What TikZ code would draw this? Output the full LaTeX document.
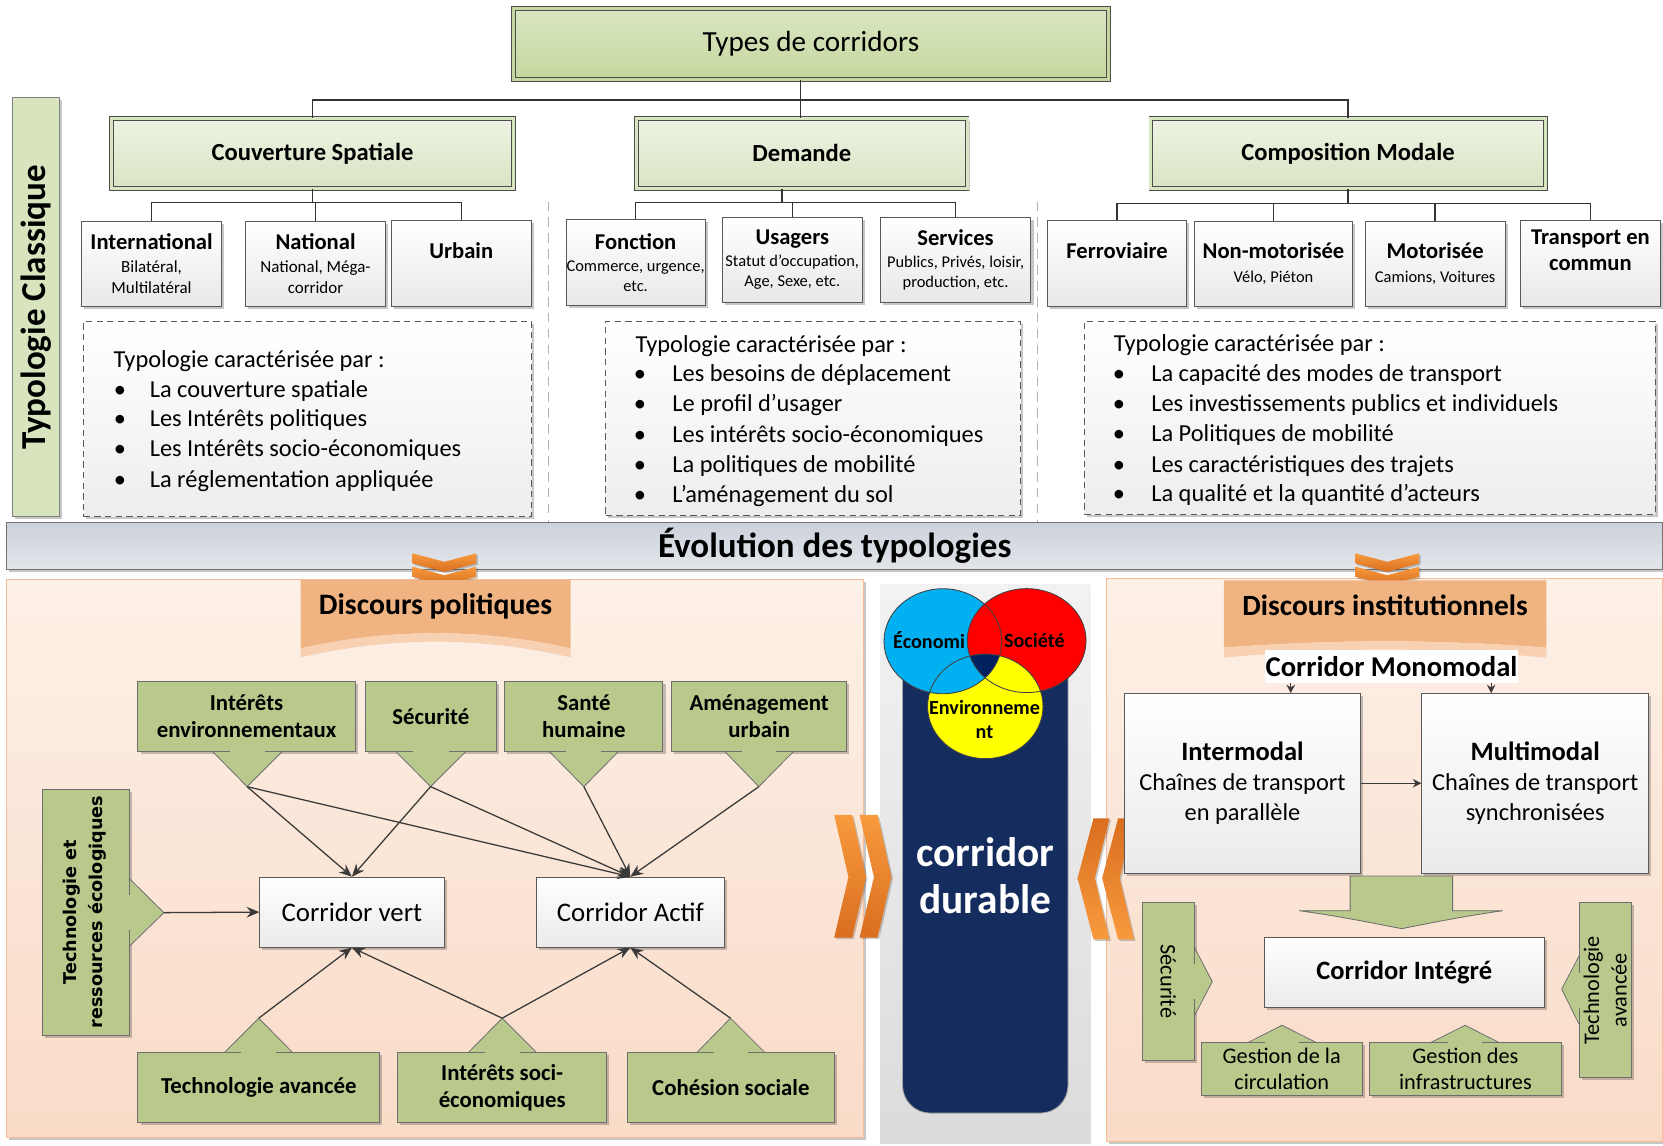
\documentclass[tikz,border=0pt]{standalone}
\usepackage{fontspec}
\setmainfont{Carlito}
\newfontfamily\wideface{DejaVu Sans}
\usetikzlibrary{shadows,arrows.meta,calc}
\newcommand\FS[2]{\fontsize{#1}{#2}\selectfont}

\definecolor{typesA}{HTML}{DAE6C2}
\definecolor{typesB}{HTML}{C4D79E}
\definecolor{hdrA}{HTML}{EEF3E4}
\definecolor{hdrB}{HTML}{D9E4C3}
\definecolor{hdrline}{HTML}{4D4D4D}
\definecolor{boxline}{HTML}{595959}
\definecolor{greenbox}{HTML}{B9C98C}
\definecolor{greenline}{HTML}{6E6E6E}
\definecolor{bandgreen}{HTML}{D7E4BD}
\definecolor{peachA}{HTML}{FDF0E7}
\definecolor{peachB}{HTML}{F9DBC7}
\definecolor{peachline}{HTML}{F5BE98}
\definecolor{banner}{HTML}{F0B483}
\definecolor{bannerlight}{HTML}{F8D0B2}
\definecolor{navy}{HTML}{152C5E}
\definecolor{venblue}{HTML}{00B0F0}
\definecolor{venred}{HTML}{FF0000}
\definecolor{venyellow}{HTML}{FFFF00}
\definecolor{vennavy}{HTML}{002060}
\definecolor{orLight}{HTML}{F89A3E}
\definecolor{orDark}{HTML}{D96E1F}
\definecolor{evoA}{HTML}{CCD2DC}
\definecolor{evoB}{HTML}{E3E5E9}
\definecolor{arrowc}{HTML}{3A3A3A}

\tikzset{
  shd/.style={drop shadow={shadow xshift=2.5pt, shadow yshift=-2.5pt, fill=black, opacity=0.22}},
  typesbox/.style={shd, draw=hdrline, line width=0.7pt, double=typesB, double distance=2.8pt, top color=typesA, bottom color=typesB, font=\FS{27.5}{32}, inner sep=0},
  hdrbox/.style={shd, draw=hdrline, line width=0.7pt, double=hdrB, double distance=2.8pt, top color=hdrA, bottom color=hdrB, font=\bfseries\FS{23.2}{27}, inner sep=0},
  childbox/.style={shd, draw=boxline, line width=0.8pt, top color=white, bottom color=black!9, inner sep=0, align=center},
  conn/.style={draw=black!80, line width=1.4pt},
  sepline/.style={draw=black!30, line width=1.2pt, dash pattern=on 9pt off 6pt},
  dashbox/.style={shd, draw=black!65, line width=0.9pt, dash pattern=on 6pt off 4pt, top color=white, bottom color=black!7, inner sep=0},
  listtxt/.style={font=\FS{23}{28}, inner sep=0},
  gbox/.style={shd, fill=greenbox, draw=greenline, line width=0.8pt, inner sep=0, align=center, font=\bfseries\FS{21.5}{25.5}},
  gline/.style={draw=greenline, line width=0.8pt},
  wbox/.style={shd, draw=boxline, line width=0.8pt, top color=white, bottom color=black!8, inner sep=0, align=center},
  arr/.style={draw=arrowc, line width=1.2pt, -{Stealth[length=12pt,width=10pt]}},
  arrs/.style={draw=arrowc, line width=1.2pt, -{Stealth[length=8pt,width=8pt]}},
  chev/.style={drop shadow={shadow xshift=1.5pt, shadow yshift=-1.5pt, fill=black, opacity=0.2}, top color=orLight, bottom color=orDark},
  chevL/.style={drop shadow={shadow xshift=1.5pt, shadow yshift=-1.5pt, fill=black, opacity=0.2}, top color=orLight, bottom color=orDark},
  chevR/.style={drop shadow={shadow xshift=1.5pt, shadow yshift=-1.5pt, fill=black, opacity=0.2}, top color=orDark, bottom color=orLight},
}

\newcommand\callout[5]{%
  \fill[greenbox] ($(#1)+(#4)$) -- ($(#2)+(#4)$) -- (#3) -- cycle;
  \draw[gline] (#1) -- (#3) -- (#2);
  \draw[gline] (#1) -- ($(#1)!16pt!(#2)$) (#2) -- ($(#2)!16pt!(#1)$);
  \coordinate (#5) at (#3);
}
\newcommand\bitem[5]{%
  \node[listtxt, anchor=base] (#1b) at (#2,#4) {\textbullet};
  \node[listtxt, anchor=base west] (#1) at (#3,#4) {#5};
}
\newcommand\dchev[2]{\path[chev] (#1-30,#2) -- (#1,#2+8) -- (#1+30,#2) -- (#1+30,#2+9.5) -- (#1,#2+17.5) -- (#1-30,#2+9.5) -- cycle;}
\newcommand\rchev[1]{\path[chevL] (#1,768.4) -- (#1+17,768.4) -- (#1+30,827) -- (#1+17,884) -- (#1,884) -- (#1+13.5,827) -- cycle;}
\newcommand\lchev[1]{\path[chevR] (#1,771.6) -- (#1-15,771.6) -- (#1-30,828) -- (#1-15,885.7) -- (#1,885.7) -- (#1-13.6,828) -- cycle;}

\begin{document}
\begin{tikzpicture}[x=1pt,y=-1pt]
\useasboundingbox (0,0) rectangle (1568,1080);
\fill[white] (0,0) rectangle (1568,1080);

% separators
\draw[sepline] (517,190) -- (517,505);
\draw[sepline] (978,190) -- (978,505);

% ---------- top tree ----------
\node[typesbox, minimum width=561, minimum height=67] (types) at (764.5,41.5) {Types de corridors};
\node[hdrbox, minimum width=379, minimum height=66] (couv) at (294.7,144.6) {Couverture Spatiale};
\node[hdrbox, minimum width=312, minimum height=66] (dem) at (756,144.6) {Demande};
\node[hdrbox, minimum width=372, minimum height=66] (comp) at (1271,144.6) {Composition Modale};

\coordinate (hubT) at (755,94.3);
\draw[conn] (types.south -| hubT) -- (dem.north -| hubT);
\draw[conn] (couv.north) -- (couv.north |- hubT) -- (comp.north |- hubT) -- (comp.north);

% Couverture children
\node[childbox, minimum width=131.8, minimum height=80.5, font=\FS{16}{19.5}] (intl) at (142.9,248.7) {{\bfseries\FS{21.3}{19.5}International}\\[2pt]Bilatéral,\\Multilatéral};
\node[childbox, minimum width=131.6, minimum height=80.5, font=\FS{16}{19.5}] (nat) at (297.5,248.7) {{\bfseries\FS{21.3}{19.5}National}\\[2pt]National, Méga-\\corridor};
\node[childbox, minimum width=131.7, minimum height=80.5] (urb) at (434.9,248.2) {};
\node[font=\bfseries\FS{21.3}{25}] (urbt) at (434.9,236) {Urbain};
\coordinate (hubC) at (0,191);
\draw[conn] (couv.south) -- (couv.south |- hubC);
\draw[conn] (intl.north) -- (intl.north |- hubC) -- (urb.north |- hubC) -- (urb.north);
\draw[conn] (nat.north) -- (nat.north |- hubC);

% Demande children
\node[childbox, minimum width=131.4, minimum height=81, font=\FS{15.5}{19}] (fon) at (599.3,247.5) {{\bfseries\FS{21.3}{19}Fonction}\\[2pt]Commerce, urgence,\\etc.};
\node[childbox, minimum width=132, minimum height=80, font=\FS{15.5}{19}] (usa) at (747,245) {{\bfseries\FS{21.3}{19}Usagers}\\[2pt]Statut d’occupation,\\Age, Sexe, etc.};
\node[childbox, minimum width=142, minimum height=80, font=\FS{15.5}{19}] (ser) at (901,245) {{\bfseries\FS{21.3}{19}Services}\\[2pt]Publics, Privés, loisir,\\production, etc.};
\coordinate (hubD) at (737.5,190.7);
\draw[conn] (dem.south -| hubD) -- (hubD);
\draw[conn] (fon.north) -- (fon.north |- hubD) -- (ser.north |- hubD) -- (ser.north);
\draw[conn] (usa.north) -- (usa.north |- hubD);

% Composition children
\node[childbox, minimum width=131.2, minimum height=80.5] (fer) at (1053.2,248.2) {};
\node[font=\bfseries\FS{21.3}{25}] (fert) at (1053.2,236.4) {Ferroviaire};
\node[childbox, minimum width=148.6, minimum height=80.5, font=\FS{15.5}{19}] (nonm) at (1200.7,248.7) {{\bfseries\FS{21.3}{19}Non-motorisée}\\[4pt]Vélo, Piéton};
\node[childbox, minimum width=131.5, minimum height=80.5, font=\FS{15.5}{19}] (moto) at (1353.2,248.7) {{\bfseries\FS{21.3}{19}Motorisée}\\[4pt]Camions, Voitures};
\node[childbox, minimum width=132, minimum height=80.5] (trans) at (1499.6,248.2) {};
\node[font=\bfseries\FS{21.3}{25}, align=center] (transt) at (1499.6,236) {Transport en\\commun};
\coordinate (hubM) at (0,191.7);
\draw[conn] (comp.south) -- (comp.south |- hubM);
\draw[conn] (fer.north) -- (fer.north |- hubM) -- (trans.north |- hubM) -- (trans.north);
\draw[conn] (nonm.north) -- (nonm.north |- hubM);
\draw[conn] (moto.north) -- (moto.north |- hubM);

% Typologie Classique band
\node[shd, fill=bandgreen, draw=black!50, line width=0.8pt, minimum width=44.5, minimum height=395, inner sep=0] (tcband) at (34,289.5) {};
\node[rotate=90, font=\bfseries\FS{33}{38}] (tclass) at (34.5,290) {Typologie Classique};

% dashed boxes
\node[dashbox, minimum width=422, minimum height=184] (dbC) at (290,395) {};
\node[listtxt, anchor=base west] (lh) at (107,346.5) {Typologie caractérisée par :};
\bitem{la}{113}{141}{374.5}{La couverture spatiale}
\bitem{lb}{113}{141}{402.5}{Les Intérêts politiques}
\bitem{lc}{113}{141}{430.5}{Les Intérêts socio-économiques}
\bitem{ld}{113}{141}{459.5}{La réglementation appliquée}

\node[dashbox, minimum width=391, minimum height=182.6] (dbD) at (766.5,394.3) {};
\node[listtxt, anchor=base west] (dh) at (599,332) {Typologie caractérisée par :};
\bitem{da}{603.5}{633.8}{359.9}{Les besoins de déplacement}
\bitem{db}{603.5}{633.8}{388.2}{Le profil d’usager}
\bitem{dc}{603.5}{633.8}{417.1}{Les intérêts socio-économiques}
\bitem{dd}{603.5}{633.8}{445.3}{La politiques de mobilité}
\bitem{de}{603.5}{633.8}{473.6}{L’aménagement du sol}

\node[dashbox, minimum width=538, minimum height=182.3] (dbM) at (1291.5,393.9) {};
\node[listtxt, anchor=base west] (mh) at (1050,331.5) {Typologie caractérisée par :};
\bitem{ma}{1055}{1085.3}{359.9}{La capacité des modes de transport}
\bitem{mb}{1055}{1085.3}{388.2}{Les investissements publics et individuels}
\bitem{mc}{1055}{1085.3}{416.5}{La Politiques de mobilité}
\bitem{md}{1055}{1085.3}{445.5}{Les caractéristiques des trajets}
\bitem{me}{1055}{1085.3}{473.3}{La qualité et la quantité d’acteurs}

% Evolution band
\node[shd, draw=black!55, line width=1pt, top color=evoA, bottom color=evoB, minimum width=1562, minimum height=44, inner sep=0, font=\bfseries\FS{33}{38}] (evo) at (787,515) {Évolution des typologies};

% panels
\path[shd, draw=peachline, line width=0.8pt, top color=peachA, bottom color=peachB] (6.3,546) rectangle (813.7,1072);
\path[shd, draw=peachline, line width=0.8pt, top color=peachA, bottom color=peachB] (1043.3,545.6) rectangle (1567.5,1076);
\path[top color=black!5, bottom color=black!14] (830,551) rectangle (1028,1078);

% down chevrons
\dchev{419}{521.7}\dchev{419}{534.3}
\dchev{1308}{521.7}\dchev{1308}{534.3}

% banners
\fill[banner] (283.4,547) -- (538,547) -- (538,611.3) .. controls (453.1,592.3) and (368.3,592.3) .. (283.4,611.3) -- cycle;
\fill[bannerlight] (283.4,611.3) .. controls (368.3,592.3) and (453.1,592.3) .. (538,611.3) -- (538,619.8) .. controls (453.1,600.1) and (368.3,600.1) .. (283.4,619.8) -- cycle;
\node[font=\bfseries\FS{28}{32}] (dpol) at (410.7,572) {Discours politiques};
\fill[banner] (1154,547.3) -- (1458,547.3) -- (1458,610.7) .. controls (1356.7,602.7) and (1255.3,602.7) .. (1154,610.7) -- cycle;
\fill[bannerlight] (1154,610.7) .. controls (1255.3,602.7) and (1356.7,602.7) .. (1458,610.7) -- (1458,620.2) .. controls (1356.7,609.9) and (1255.3,609.9) .. (1154,620.2) -- cycle;
\node[font=\bfseries\FS{27.7}{32}] (dinst) at (1306,571) {Discours institutionnels};

% ---------- left panel ----------
\node[gbox, minimum width=205, minimum height=66] (ie) at (232.5,675.7) {Intérêts\\environnementaux};
\node[gbox, minimum width=123, minimum height=66] (sec) at (406.2,675.7) {Sécurité};
\node[gbox, minimum width=149, minimum height=66] (sante) at (550.5,675.7) {Santé\\humaine};
\node[gbox, minimum width=165, minimum height=66] (amen) at (715.8,675.7) {Aménagement\\urbain};
\callout{200.6,708.7}{266,708.7}{233,741.7}{0,-1}{ieT}
\callout{373.4,708.7}{439,708.7}{406,741.7}{0,-1}{secT}
\callout{518,708.7}{583,708.7}{550.5,741.7}{0,-1}{santeT}
\callout{683.6,708.7}{748,708.7}{715.5,741.7}{0,-1}{amenT}

\node[gbox, minimum width=82, minimum height=232] (tre) at (81,860) {};
\node[rotate=90, align=center, font=\wideface\bfseries\FS{16.6}{24.5}] (tret) at (80,860) {Technologie et\\ressources écologiques};
\callout{121.6,828}{121.6,892.6}{154.5,860.5}{-1,0}{treT}

\node[wbox, minimum width=173.6, minimum height=66, font=\FS{25.3}{30}] (cv) at (331.8,860) {Corridor vert};
\node[wbox, minimum width=176.6, minimum height=66, font=\FS{25.3}{30}] (ca) at (594.3,860) {Corridor Actif};

\node[gbox, minimum width=228, minimum height=66] (ta) at (244,1025.5) {Technologie avancée};
\node[gbox, minimum width=197, minimum height=66] (isoc) at (473.5,1025.5) {Intérêts soci-\\économiques};
\node[gbox, minimum width=195.4, minimum height=66] (coh) at (689.1,1025.5) {Cohésion sociale};
\callout{211.6,992.5}{276,992.5}{244,960}{0,1}{taT}
\callout{441.5,992.5}{506,992.5}{473.5,960}{0,1}{isocT}
\callout{656.9,992.5}{721.3,992.5}{688.8,960}{0,1}{cohT}

\draw[arr] (ieT) -- (cv.north);
\draw[arr] (ieT) -- (ca.north);
\draw[arr] (secT) -- (cv.north);
\draw[arr] (secT) -- (ca.north);
\draw[arr] (santeT) -- (ca.north);
\draw[arr] (amenT) -- (ca.north);
\draw[arr] (treT) -- (cv.west);
\draw[arr] (taT) -- (cv.south);
\draw[arr] (isocT) -- (cv.south);
\draw[arr] (isocT) -- (ca.south);
\draw[arr] (cohT) -- (ca.south);

% ---------- middle ----------
\node[draw=black!35, line width=0.8pt, fill=navy, rounded corners=26pt, minimum width=156, minimum height=459.5, inner sep=0] (cdur) at (929,819.75) {};
\node[text=white, font=\bfseries\FS{39}{44}, align=center] (cdurt) at (929,825.3) {corridor\\durable};
\fill[venblue] (889,604.6) ellipse [x radius=55.5, y radius=49.5];
\fill[venred] (968,604) ellipse [x radius=56, y radius=49];
\fill[venyellow] (929,666) ellipse [x radius=54.4, y radius=49.3];
\begin{scope}
  \clip (889,604.6) ellipse [x radius=55.5, y radius=49.5];
  \fill[venblue] (929,666) ellipse [x radius=54.4, y radius=49.3];
\end{scope}
\begin{scope}
  \clip (889,604.6) ellipse [x radius=55.5, y radius=49.5];
  \clip (968,604) ellipse [x radius=56, y radius=49];
  \fill[vennavy] (929,666) ellipse [x radius=54.4, y radius=49.3];
\end{scope}
\draw[black!75, line width=0.8pt] (889,604.6) ellipse [x radius=55.5, y radius=49.5];
\draw[black!75, line width=0.8pt] (968,604) ellipse [x radius=56, y radius=49];
\draw[black!75, line width=0.8pt] (929,666) ellipse [x radius=54.4, y radius=49.3];
\node[font=\bfseries\FS{19}{22}] (eco) at (876,604) {Économi};
\node[font=\bfseries\FS{19}{22}] (soc) at (975.3,604) {Société};
\node[font=\bfseries\FS{19}{22.5}, align=center] (env) at (928.3,678.7) {Environneme\\nt};

% side chevrons
\rchev{786.5}\rchev{810.5}
\lchev{1046}\lchev{1069.2}

% ---------- right panel ----------
\node[fill=white, inner sep=0, minimum width=238, minimum height=31.5, font=\bfseries\FS{27}{32}] (mono) at (1312,628.3) {Corridor Monomodal};
\node[wbox, minimum width=223, minimum height=170, font=\FS{23}{28.5}] (inter) at (1171.5,738.5) {{\bfseries\FS{25}{28.5}Intermodal}\\Chaînes de transport\\en parallèle};
\node[wbox, minimum width=214, minimum height=170, font=\FS{23}{28.5}] (multi) at (1447.5,738.5) {{\bfseries\FS{25}{28.5}Multimodal}\\Chaînes de transport\\synchronisées};
\coordinate (m1) at (1217,653.6);
\coordinate (m2) at (1406,653.6);
\draw[arrs] (mono.south -| m1) -- (m1);
\draw[arrs] (mono.south -| m2) -- (m2);
\draw[arrs] (inter.east) -- (multi.west);

\path[fill=greenbox, draw=greenline, line width=0.8pt] (1273,826) -- (1369.6,826) -- (1369.6,858.7) -- (1417,858.7) .. controls (1385,863) and (1350,870) .. (1321.5,875.6) .. controls (1293,870) and (1258,863) .. (1225,858.7) -- (1273,858.7) -- cycle;

\node[wbox, minimum width=264, minimum height=65.5, font=\bfseries\FS{25}{30}] (cint) at (1324,916.7) {Corridor Intégré};

\node[gbox, minimum width=49, minimum height=148.5] (sec2) at (1101.5,925.3) {};
\node[rotate=-90, font=\FS{21}{25}] (sec2t) at (1101.5,925.3) {Sécurité};
\callout{1126,893}{1126,958}{1143,925.5}{-1,0}{sec2T}

\node[gbox, minimum width=49, minimum height=165] (tav2) at (1513.5,933.5) {};
\node[rotate=90, align=center, font=\FS{21}{26}] (tav2t) at (1513.5,933.5) {Technologie\\avancée};
\callout{1489,901}{1489,966}{1472.5,932.5}{1,0}{tav2T}

\node[gbox, font=\FS{21}{24.5}, minimum width=152, minimum height=50] (gc) at (1208.5,1008) {Gestion de la\\circulation};
\node[gbox, font=\FS{21}{24.5}, minimum width=180.6, minimum height=50] (gi) at (1381.7,1008) {Gestion des\\infrastructures};
\callout{1176.6,983}{1241,983}{1208.8,966.7}{0,1}{gcT}
\callout{1349,983}{1413.5,983}{1381.4,966.7}{0,1}{giT}

\end{tikzpicture}
\end{document}
